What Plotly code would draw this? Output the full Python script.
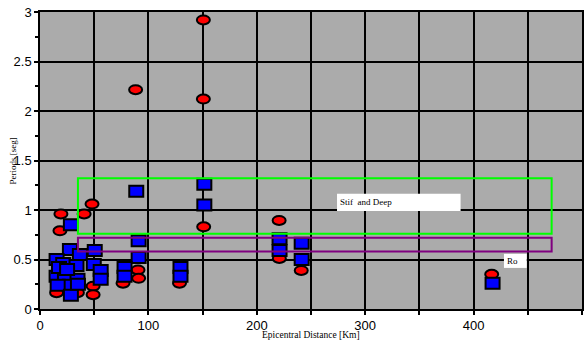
import plotly.graph_objects as go

# Data
red_x = [150.7, 88.2, 150.7, 151, 220.6, 220.8, 241, 416.7, 48, 19.3, 40.7, 18.4,
         15.3, 34.5, 49, 49, 76.6, 90.4, 91, 128.7]
red_y = [2.92, 2.215, 2.12, 0.83, 0.895, 0.51, 0.39, 0.35, 1.06, 0.96, 0.96, 0.79,
         0.165, 0.165, 0.23, 0.145, 0.26, 0.395, 0.31, 0.26]

blue_x = [88.8, 151.6, 151.6, 91, 91, 78, 78, 129.6, 129.6, 221, 221, 241.4, 241.4,
          417.5, 28.5, 27.6, 36.8, 50.5, 15.3, 21.4, 33.7, 49.6, 56, 56, 15.3, 23,
          34.6, 27.6, 16.3, 28.5, 17.5, 25, 35]
blue_y = [1.19, 1.26, 1.05, 0.69, 0.52, 0.42, 0.33, 0.42, 0.33, 0.71, 0.59, 0.665, 0.50,
          0.26, 0.85, 0.60, 0.55, 0.59, 0.50, 0.46, 0.44, 0.45, 0.39, 0.30, 0.33, 0.33,
          0.30, 0.24, 0.24, 0.14, 0.42, 0.40, 0.25]

# zones: [x0, x1, y0, y1]
zone_stiff = [35, 472, 0.76, 1.32]
zone_ro = [35, 472, 0.58, 0.72]
label_stiff_box = [274, 388, 0.99, 1.165]
label_ro_box = [428, 449, 0.415, 0.557]

x_ticks = [0, 100, 200, 300, 400, 500]
y_ticks = [0, 0.5, 1, 1.5, 2, 2.5, 3]
y_tick_labels = ["0", "0.5", "1", "1.5", "2", "2.5", "3"]

fig = go.Figure()
fig.add_trace(go.Scatter(x=red_x, y=red_y, mode="markers",
                         marker=dict(opacity=0), hoverinfo="x+y", showlegend=False))
fig.add_trace(go.Scatter(x=blue_x, y=blue_y, mode="markers",
                         marker=dict(opacity=0), hoverinfo="x+y", showlegend=False))

shapes = []
for x, y in zip(red_x, red_y):
    shapes.append(dict(type="circle", xref="x", yref="y", xsizemode="pixel", ysizemode="pixel",
                       xanchor=x, yanchor=y, x0=-6.5, x1=6.5, y0=-4.5, y1=4.5,
                       fillcolor="#ff0000", line=dict(color="black", width=2), layer="above"))
for x, y in zip(blue_x, blue_y):
    shapes.append(dict(type="rect", xref="x", yref="y", xsizemode="pixel", ysizemode="pixel",
                       xanchor=x, yanchor=y, x0=-7, x1=7, y0=-5.5, y1=5.5,
                       fillcolor="#0000ff", line=dict(color="black", width=2), layer="above"))

shapes.append(dict(type="rect", xref="x", yref="y", x0=zone_stiff[0], x1=zone_stiff[1],
                   y0=zone_stiff[2], y1=zone_stiff[3], line=dict(color="#00ff00", width=2),
                   fillcolor="rgba(0,0,0,0)", layer="above"))
shapes.append(dict(type="rect", xref="x", yref="y", x0=zone_ro[0], x1=zone_ro[1],
                   y0=zone_ro[2], y1=zone_ro[3], line=dict(color="#800080", width=2),
                   fillcolor="rgba(0,0,0,0)", layer="above"))
for b in (label_stiff_box, label_ro_box):
    shapes.append(dict(type="rect", xref="x", yref="y", x0=b[0], x1=b[1], y0=b[2], y1=b[3],
                       line=dict(width=0), fillcolor="white", layer="above"))

annotations = [
    dict(text="Stif  and Deep", x=label_stiff_box[0] + 1, y=(label_stiff_box[2] + label_stiff_box[3]) / 2,
         xref="x", yref="y", xanchor="left", yanchor="middle", showarrow=False,
         font=dict(family="Liberation Serif", size=9, color="black")),
    dict(text="Ro", x=label_ro_box[0] + 1, y=(label_ro_box[2] + label_ro_box[3]) / 2,
         xref="x", yref="y", xanchor="left", yanchor="middle", showarrow=False,
         font=dict(family="Liberation Serif", size=9, color="black")),
    dict(text="Epicentral Distance [Km]", x=0.5, y=-0.088, xref="paper", yref="paper",
         xanchor="center", yanchor="middle", showarrow=False,
         font=dict(family="Liberation Serif", size=9.5, color="black")),
    dict(text="Periods [seg]", x=-0.05, y=0.5, xref="paper", yref="paper", textangle=-90,
         xanchor="center", yanchor="middle", showarrow=False,
         font=dict(family="Liberation Serif", size=9, color="black")),
]

fig.update_layout(
    width=586, height=345,
    margin=dict(l=40, r=2, t=12, b=36),
    paper_bgcolor="white", plot_bgcolor="#ababab",
    showlegend=False,
    shapes=shapes, annotations=annotations,
    font=dict(family="Liberation Sans", size=13, color="black"),
    xaxis=dict(range=[0, 500], tickvals=x_ticks, ticktext=[str(v) for v in x_ticks],
               showgrid=True, gridcolor="black", gridwidth=1.5, griddash="dot",
               ticks="outside", ticklen=4, tickwidth=1.5, tickcolor="black",
               showline=True, linecolor="black", linewidth=1.5, mirror=True,
               zeroline=False, fixedrange=True,
               minor=dict(dtick=50, tick0=0, showgrid=True, gridcolor="black", gridwidth=1.8,
                          griddash="solid", ticks="outside", ticklen=4, tickwidth=1.5,
                          tickcolor="black")),
    yaxis=dict(range=[0, 3], tickvals=y_ticks, ticktext=y_tick_labels,
               showgrid=True, gridcolor="black", gridwidth=1.8,
               ticks="outside", ticklen=4, tickwidth=1.5, tickcolor="black",
               showline=True, linecolor="black", linewidth=1.5, mirror=True,
               zeroline=False, fixedrange=True,
               minor=dict(dtick=0.25, tick0=0, showgrid=False, ticks="outside", ticklen=3,
                          tickwidth=1.5, tickcolor="black")),
)

fig.write_html("out.html")
